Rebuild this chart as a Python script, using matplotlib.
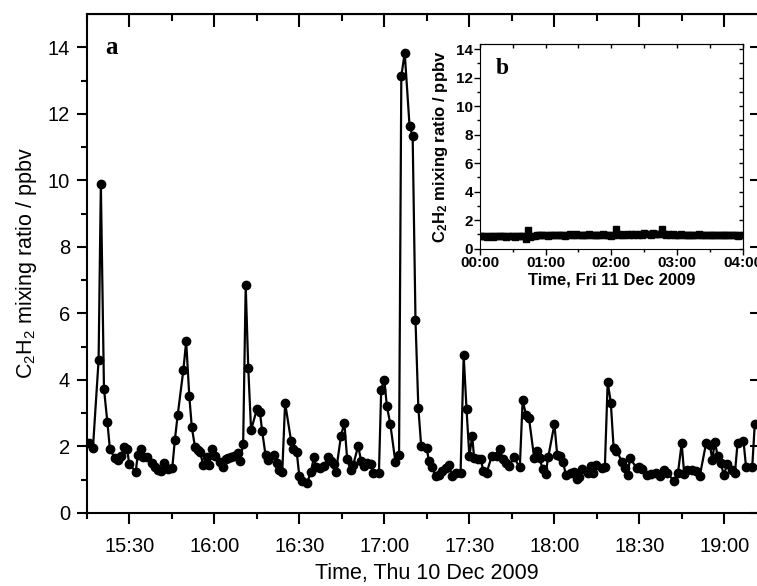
import numpy as np
import pandas as pd
import matplotlib
matplotlib.use("Agg")
from matplotlib import pyplot as plt
from matplotlib import font_manager
import matplotlib.dates as mdates

# pick a narrow sans if installed
names = {f.name for f in font_manager.fontManager.ttflist}
has_narrow = 'Liberation Sans Narrow' in names
narrow = 'Liberation Sans Narrow' if has_narrow else 'Liberation Sans'
tick_fs = 17 if has_narrow else 14.5
lab_fs = 18 if has_narrow else 15.5
plt.rcParams['mathtext.default'] = 'regular'

# main panel: minutes after 15:15 on Thu 10 Dec 2009, C2H2 in ppbv
t_a = [0.8, 2.2, 4.2, 5.0, 6.1, 7.3, 8.2, 10.0, 11.1, 12.1, 13.3, 14.3, 15.0, 17.3, 18.0,
       19.2, 20.0, 21.4, 22.9, 24.1, 25.0, 26.2, 27.3, 28.8, 30.2, 31.1, 32.1, 34.1, 35.1,
       36.2, 37.1, 38.2, 39.4, 40.0, 41.1, 42.3, 43.1, 44.1, 45.2, 47.0, 48.1, 49.0, 50.0,
       50.9, 52.1, 53.3, 54.1, 55.2, 56.1, 57.0, 58.0, 60.1, 61.1, 61.9, 63.1, 64.1, 66.1,
       67.1, 67.8, 69.0, 70.0, 72.1, 72.9, 74.1, 75.0, 76.1, 77.8, 79.1, 80.2, 80.9, 82.3,
       83.8, 85.0, 86.2, 87.2, 87.9, 89.7, 90.9, 91.9, 93.1, 94.0, 95.8, 96.8, 97.8, 98.8,
       100.2, 101.1, 103.1, 103.9, 105.0, 105.9, 107.1, 108.9, 110.2, 111.0, 112.2, 113.9,
       115.0, 116.0, 117.0, 118.0, 120.0, 120.7, 121.9, 123.1, 124.3, 125.2, 126.7, 127.8,
       129.0, 130.2, 131.9, 133.0, 134.0, 135.0, 136.0, 136.7, 138.1, 139.1, 139.9, 141.1,
       142.9, 144.6, 145.9, 146.7, 147.8, 149.1, 150.7, 152.8, 153.8, 155.0, 156.0, 157.9,
       159.0, 159.8, 160.9, 161.9, 162.8, 165.0, 166.0, 167.0, 168.1, 169.0, 170.8, 172.0,
       172.8, 173.8, 174.9, 176.7, 177.9, 178.7, 179.6, 181.7, 182.8, 183.8, 184.9, 185.9,
       186.9, 188.9, 189.9, 190.8, 191.7, 194.0, 194.8, 195.8, 197.5, 199.0, 200.7, 202.2,
       203.7, 204.8, 207.2, 208.6, 209.9, 210.8, 211.9, 213.4, 214.8, 216.3, 218.5, 219.9,
       220.7, 221.6, 222.6, 223.7, 224.8, 225.9, 227.5, 228.7, 229.6, 231.7, 232.6, 234.8,
       235.7]
c2h2_a = [2.09, 1.94, 4.59, 9.88, 3.74, 2.73, 1.92, 1.64, 1.59, 1.71, 1.99, 1.91, 1.47, 1.24, 1.73,
          1.92, 1.69, 1.67, 1.51, 1.39, 1.29, 1.27, 1.49, 1.31, 1.36, 2.19, 2.94, 4.29, 5.16,
          3.51, 2.57, 1.99, 1.89, 1.84, 1.44, 1.67, 1.44, 1.92, 1.71, 1.54, 1.39, 1.61, 1.64,
          1.67, 1.72, 1.81, 1.56, 2.07, 6.85, 4.36, 2.49, 3.14, 3.04, 2.46, 1.74, 1.59, 1.74,
          1.51, 1.29, 1.24, 3.31, 2.17, 1.91, 1.83, 1.12, 0.97, 0.91, 1.24, 1.69, 1.39, 1.34,
          1.41, 1.67, 1.56, 1.47, 1.22, 2.31, 2.72, 1.61, 1.29, 1.44, 2.02, 1.56, 1.41, 1.49,
          1.47, 1.21, 1.21, 3.71, 4.01, 3.21, 2.68, 1.54, 1.75, 13.14, 13.82, 11.64,
          11.32, 5.79, 3.17, 2.02, 1.94, 1.56, 1.37, 1.11, 1.13, 1.27, 1.34, 1.44,
          1.11, 1.21, 1.21, 4.74, 3.12, 1.71, 2.31, 1.64, 1.61, 1.61, 1.26, 1.21,
          1.71, 1.71, 1.91, 1.61, 1.49, 1.41, 1.67, 1.37, 3.39, 2.94, 2.87, 1.64,
          1.87, 1.64, 1.31, 1.17, 1.67, 2.67, 1.74, 1.71, 1.54, 1.14, 1.21, 1.24,
          1.02, 1.09, 1.31, 1.21, 1.41, 1.19, 1.44, 1.34, 1.37, 3.94, 3.32, 1.94,
          1.87, 1.54, 1.34, 1.14, 1.64, 1.36, 1.37, 1.31, 1.14, 1.17, 1.19, 1.11,
          1.29, 1.19, 0.97, 1.21, 2.09, 1.17, 1.29, 1.29, 1.27, 1.12, 2.09, 2.04,
          1.59, 2.14, 1.71, 1.49, 1.14, 1.47, 1.29, 1.21, 2.09, 2.17, 1.39, 1.39,
          2.69]

# inset: every 2 minutes from 00:00 Fri 11 Dec 2009
c2h2_b = [0.88, 0.86, 0.90, 0.85, 0.89, 0.87, 0.84, 0.88, 0.92, 0.86, 0.89, 0.90, 0.85, 0.88,
          0.91, 0.87, 0.85, 0.90, 0.88, 0.86, 0.89,
          0.65, 1.28,
          0.80, 0.92, 0.90, 0.95, 0.93, 0.97, 0.94, 0.96, 0.92, 0.98, 0.95, 0.93, 0.97, 0.94,
          0.99, 0.96, 0.92, 0.95, 1.00, 0.97, 0.93, 1.05, 0.96, 0.94, 0.98, 0.95, 0.97, 1.00,
          0.96, 0.93, 0.99, 0.97, 0.95, 1.01, 0.96, 0.94, 0.98, 0.92,
          0.97, 1.35, 0.95, 1.02, 0.98, 0.94, 1.00, 0.97, 1.03, 0.96, 1.06, 0.99, 1.04, 0.97,
          1.08, 1.00, 1.05, 0.98, 1.10, 1.02, 1.06, 1.00, 1.38, 1.03, 0.98, 1.04, 0.97, 1.01,
          0.95, 0.99, 0.96, 1.00, 0.94, 0.98, 0.95, 0.99, 0.96, 0.93, 0.97, 1.00, 0.95, 0.98,
          0.94, 0.97, 0.99, 0.93, 0.96, 0.98, 0.94, 0.97, 0.95, 0.99, 0.93, 0.96, 0.94, 0.98,
          0.95, 0.92, 0.97, 0.94]
t_b = list(range(0, 2 * len(c2h2_b), 2))

start_a = pd.Timestamp('2009-12-10 15:15')
start_b = pd.Timestamp('2009-12-11 00:00')
x_a = mdates.date2num((start_a + pd.to_timedelta(t_a, unit='m')).to_numpy())
x_b = mdates.date2num((start_b + pd.to_timedelta(t_b, unit='m')).to_numpy())

fig = plt.figure(figsize=(7.57, 5.86), dpi=100)

# ---- main panel ----
ax = fig.add_axes([0.1145, 0.1246, 0.8987, 0.8515])
ax.plot(x_a, c2h2_a, '-o', color='black', lw=1.6, ms=6)
ax.set_xlim(mdates.date2num(start_a), mdates.date2num(start_a + pd.Timedelta(hours=4)))
ax.set_ylim(0, 15)
ax.xaxis.set_major_locator(mdates.MinuteLocator(byminute=[0, 30]))
ax.xaxis.set_minor_locator(mdates.MinuteLocator(byminute=[15, 45]))
ax.xaxis.set_major_formatter(mdates.DateFormatter('%H:%M'))
ax.set_yticks(range(0, 15, 2))
ax.set_yticks(range(1, 15, 2), minor=True)
for s in ax.spines.values():
    s.set_linewidth(1.5)
ax.tick_params(which='major', direction='out', length=7, width=1.5, labelsize=tick_fs, pad=5)
ax.tick_params(which='minor', direction='out', length=4, width=1.5)
ax.tick_params(axis='x', which='major', length=8, pad=9)
for lab in ax.get_xticklabels() + ax.get_yticklabels():
    lab.set_family(narrow)

top = ax.secondary_xaxis('top', functions=(lambda v: v, lambda v: v))
top.xaxis.set_major_locator(mdates.MinuteLocator(byminute=[0, 30]))
top.xaxis.set_minor_locator(mdates.MinuteLocator(byminute=[15, 45]))
top.tick_params(which='major', direction='in', length=9, width=1.5, labeltop=False)
top.tick_params(which='minor', direction='in', length=5, width=1.5)
right = ax.secondary_yaxis('right', functions=(lambda v: v, lambda v: v))
right.set_yticks(range(0, 15, 2))
right.set_yticks(range(1, 15, 2), minor=True)
right.tick_params(which='major', direction='in', length=12, width=1.5, labelright=False)
right.tick_params(which='minor', direction='in', length=6, width=1.5)

ax.set_xlabel('Time, Thu 10 Dec 2009', fontsize=lab_fs, family=narrow, labelpad=5)
ax.set_ylabel('C$_2$H$_2$ mixing ratio / ppbv', fontsize=lab_fs, family=narrow, labelpad=6)
ax.text(0.028, 0.955, 'a', transform=ax.transAxes, fontsize=18, fontweight='bold',
        family='Liberation Serif', va='top')

# ---- inset ----
ins = fig.add_axes([0.634, 0.5756, 0.347, 0.3493])
ins.plot(x_b, c2h2_b, '-s', color='black', lw=1.5, ms=4)
ins.set_xlim(mdates.date2num(start_b), mdates.date2num(start_b + pd.Timedelta(hours=4)))
ins.set_ylim(0, 14.35)
ins.xaxis.set_major_locator(mdates.HourLocator())
ins.xaxis.set_minor_locator(mdates.MinuteLocator(byminute=[30]))
ins.xaxis.set_major_formatter(mdates.DateFormatter('%H:%M'))
ins.set_yticks(range(0, 15, 2))
ins.set_yticks(range(1, 15, 2), minor=True)
ins.tick_params(which='major', direction='out', length=4, width=1, labelsize=11, pad=1)
ins.tick_params(which='minor', direction='out', length=2.5, width=1)
for lab in ins.get_xticklabels() + ins.get_yticklabels():
    lab.set_fontweight('bold')
    lab.set_family('Liberation Sans')
itop = ins.secondary_xaxis('top', functions=(lambda v: v, lambda v: v))
itop.xaxis.set_major_locator(mdates.HourLocator())
itop.xaxis.set_minor_locator(mdates.MinuteLocator(byminute=[30]))
itop.tick_params(which='both', direction='in', length=3, width=1, labeltop=False)
iright = ins.secondary_yaxis('right', functions=(lambda v: v, lambda v: v))
iright.set_yticks(range(0, 15, 2))
iright.set_yticks(range(1, 15, 2), minor=True)
iright.tick_params(which='both', direction='in', length=3, width=1, labelright=False)
ins.set_xlabel('Time, Fri 11 Dec 2009', fontsize=12, fontweight='bold',
               family='Liberation Sans', labelpad=2)
ins.set_ylabel('C$_2$H$_2$ mixing ratio / ppbv', fontsize=12, fontweight='bold',
               family='Liberation Sans', labelpad=4)
ins.text(0.06, 0.93, 'b', transform=ins.transAxes, fontsize=17, fontweight='bold',
         family='Liberation Serif', va='top')

fig.savefig('out.png', dpi=100)
